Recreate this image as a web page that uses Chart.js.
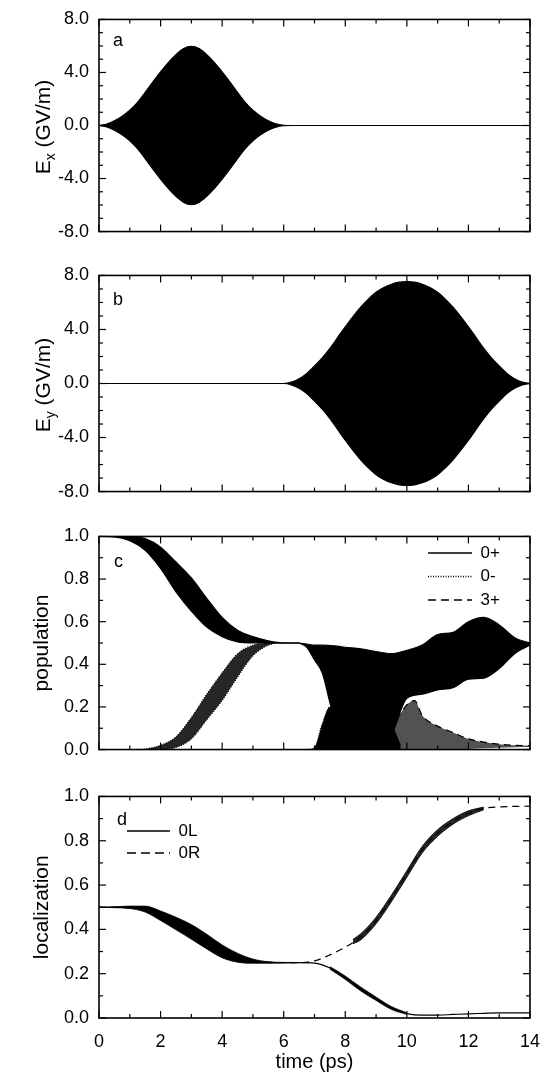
<!DOCTYPE html>
<html><head><meta charset="utf-8">
<script src="https://cdn.jsdelivr.net/npm/chart.js@4/dist/chart.umd.min.js"></script>
<style>
html,body{margin:0;padding:0;background:#fff;}
#wrap{position:relative;width:555px;height:1072px;overflow:hidden;background:#fff;}
canvas{position:absolute;left:0;}
</style></head><body>
<div id="wrap">
<canvas id="ca" width="555" height="251" style="top:0px"></canvas>
<canvas id="cb" width="555" height="255" style="top:256px"></canvas>
<canvas id="cc" width="555" height="252" style="top:517px"></canvas>
<canvas id="cd" width="555" height="295" style="top:777px"></canvas>
</div>
<script>
// ---------------- data ----------------
// panel a : envelope of Ex (GV/m)
const T_EX = [0,0.25,0.5,0.75,1,1.25,1.5,1.75,2,2.25,2.5,2.75,3,3.25,3.5,3.75,4,4.25,4.5,4.75,5,5.25,5.5,5.75,6,6.25,14];
const EX_UP = [0,0.1,0.35,0.7,1.15,1.75,2.5,3.3,4.05,4.75,5.35,5.8,5.97,5.8,5.35,4.75,4.05,3.3,2.5,1.75,1.15,0.7,0.35,0.12,0.02,0,0];
const EX_LO = [0,-0.1,-0.35,-0.7,-1.15,-1.75,-2.5,-3.3,-4.05,-4.75,-5.35,-5.8,-5.97,-5.8,-5.35,-4.75,-4.05,-3.3,-2.5,-1.75,-1.15,-0.7,-0.35,-0.12,-0.02,0,0];

// panel b : envelope of Ey (GV/m)
const T_EY = [0,6,6.25,6.5,6.75,7,7.25,7.5,7.75,8,8.25,8.5,8.75,9,9.25,9.5,9.75,10,10.25,10.5,10.75,11,11.25,11.5,11.75,12,12.25,12.5,12.75,13,13.25,13.5,13.75,14];
const EY_UP = [0,0,0.1,0.35,0.75,1.3,1.9,2.6,3.4,4.2,4.95,5.65,6.25,6.75,7.1,7.35,7.5,7.55,7.5,7.35,7.1,6.75,6.25,5.65,4.95,4.2,3.4,2.6,1.9,1.3,0.75,0.35,0.1,0];
const EY_LO = [0,0,-0.1,-0.35,-0.75,-1.3,-1.9,-2.6,-3.4,-4.2,-4.95,-5.65,-6.25,-6.75,-7.1,-7.35,-7.5,-7.55,-7.5,-7.35,-7.1,-6.75,-6.25,-5.65,-4.95,-4.2,-3.4,-2.6,-1.9,-1.3,-0.75,-0.35,-0.1,0];

// panel c : population bands
const T_C1 = [0,0.5,1,1.5,2,2.5,3,3.5,4,4.5,5,5.5,6,6.5];
const P0P_HI = [1.0,1.0,1.0,0.99,0.95,0.88,0.805,0.71,0.62,0.56,0.53,0.51,0.50,0.50];
const P0P_LO = [1.0,0.998,0.98,0.935,0.85,0.74,0.65,0.575,0.53,0.505,0.50,0.50,0.50,0.50];
const P0M_HI = [0,0,0,0.003,0.02,0.06,0.15,0.26,0.36,0.45,0.49,0.50,0.50,0.50];
const P0M_LO = [0,0,0,0,0,0.01,0.05,0.14,0.23,0.34,0.44,0.49,0.50,0.50];
const T_C2 = [6.5,6.75,7,7.25,7.5,7.75,8,8.5,9,9.5,10,10.5,11,11.5,12,12.5,13,13.5,14];
const P0P2_HI = [0.50,0.495,0.49,0.49,0.488,0.485,0.48,0.473,0.46,0.45,0.466,0.49,0.54,0.55,0.60,0.62,0.585,0.525,0.50];
const P0P2_LO = [0.50,0.48,0.42,0.36,0.22,0.08,0.03,0.02,0.02,0.07,0.24,0.26,0.28,0.29,0.33,0.335,0.38,0.45,0.49];
const T_C3 = [6.75,7,7.25,7.5,7.75,8,8.5,9,9.5,9.8];
const P3A_HI = [0,0.01,0.12,0.2,0.18,0.2,0.2,0.17,0.12,0.02];
const P3A_LO = [0,0,0,0,0,0,0,0,0,0];
const T_C4 = [9.4,9.75,10,10.25,10.5,11,11.5,12,12.5,13,13.5,14];
const P3B_HI = [0.1,0.16,0.21,0.23,0.16,0.11,0.08,0.05,0.035,0.025,0.02,0.018];
const P3B_LO = [0,0,0,0,0,0,0,0.003,0.006,0.009,0.011,0.012];

// panel d : localization
const T_D = [0,0.5,1,1.5,2,2.5,3,3.5,4,4.5,5,5.5,6,6.5,7,7.5,8,8.5,9,9.5,10,10.5,11,11.5,12,12.5,13,13.5,14];
const D_0L = [0.5,0.5,0.498,0.49,0.46,0.425,0.39,0.345,0.3,0.27,0.256,0.251,0.25,0.25,0.248,0.226,0.182,0.131,0.087,0.045,0.02,0.013,0.013,0.016,0.019,0.021,0.023,0.023,0.023];
const D_0R = [0.5,0.5,0.498,0.49,0.46,0.425,0.39,0.345,0.3,0.27,0.256,0.251,0.25,0.25,0.258,0.285,0.32,0.366,0.44,0.54,0.65,0.76,0.835,0.887,0.924,0.946,0.953,0.955,0.956];
const T_DB = [0,0.5,1,1.5,2,2.5,3,3.5,4,4.5,5,5.5,6,6.5];
const D_BHI = [0.5,0.502,0.505,0.505,0.483,0.455,0.422,0.378,0.33,0.292,0.266,0.254,0.251,0.25];
const D_BLO = [0.5,0.498,0.494,0.478,0.44,0.398,0.356,0.312,0.272,0.252,0.247,0.247,0.249,0.25];
const T_DR = [8.25,8.5,9,9.5,10,10.5,11,11.5,12,12.5];
const R_HI = [0.355,0.38,0.455,0.555,0.665,0.775,0.85,0.9,0.935,0.952];
const R_LO = [0.335,0.352,0.425,0.525,0.635,0.745,0.82,0.875,0.913,0.94];
const T_DL = [7.5,8,8.5,9,9.5,10];
const L_HI = [0.232,0.19,0.14,0.095,0.052,0.024];
const L_LO = [0.22,0.174,0.122,0.079,0.038,0.016];

const X_TICKS = [0,2,4,6,8,10,12,14];

// ---------------- helpers ----------------
Chart.defaults.font.family = '"Liberation Sans", Arial, Helvetica, sans-serif';
Chart.defaults.color = '#000';
const FONT = '"Liberation Sans", Arial, Helvetica, sans-serif';
const LW = 1.2;

function line(xs, ys, o) {
  return Object.assign({
    data: xs.map((x, i) => ({x: x, y: ys[i]})),
    borderColor: '#000', borderWidth: LW, pointRadius: 0, pointHoverRadius: 0,
    fill: false, backgroundColor: '#000', cubicInterpolationMode: 'monotone'
  }, o || {});
}
function band(xs, hi, lo, color, hiOpts, loOpts) {
  return [line(xs, lo, loOpts), line(xs, hi, Object.assign({fill: '-1', backgroundColor: color}, hiOpts || {}))];
}

const frameTicks = {
  id: 'frameTicks',
  afterDatasetsDraw(chart, args, o) {
    const {ctx, chartArea: a} = chart;
    const x = chart.scales.x, y = chart.scales.y;
    ctx.save();
    ctx.strokeStyle = '#000';
    ctx.lineWidth = 1.2;
    const seg = (x1, y1, x2, y2) => { ctx.beginPath(); ctx.moveTo(x1, y1); ctx.lineTo(x2, y2); ctx.stroke(); };
    let n = Math.round((x.max - x.min) / o.xMinor);
    for (let i = 0; i <= n; i++) {
      const v = x.min + i * o.xMinor;
      const px = x.getPixelForValue(v);
      const r = v / o.xMajor;
      const L = Math.abs(r - Math.round(r)) < 1e-6 ? 7 : 4;
      seg(px, a.bottom, px, a.bottom - L);
      seg(px, a.top, px, a.top + L);
    }
    n = Math.round((y.max - y.min) / o.yMinor);
    for (let i = 0; i <= n; i++) {
      const v = y.min + i * o.yMinor;
      const py = y.getPixelForValue(v);
      const r = (v - y.min) / o.yMajor;
      const L = Math.abs(r - Math.round(r)) < 1e-6 ? 7 : 4;
      seg(a.left, py, a.left + L, py);
      seg(a.right, py, a.right - L, py);
    }
    ctx.lineWidth = 1.6;
    ctx.strokeRect(a.left, a.top, a.right - a.left, a.bottom - a.top);
    // panel letter
    ctx.fillStyle = '#000';
    ctx.font = '18px ' + FONT;
    ctx.textAlign = 'left';
    ctx.textBaseline = 'alphabetic';
    ctx.fillText(o.letter, a.left + o.lx, a.top + o.ly);
    // y title with subscript
    if (o.sub) {
      const cy = (a.top + a.bottom) / 2 + 1.5;
      ctx.translate(50, cy);
      ctx.rotate(-Math.PI / 2);
      const big = '21px ' + FONT, small = '14px ' + FONT;
      ctx.font = big; const wE = ctx.measureText('E').width;
      const rest = ' (GV/m)'; const wR = ctx.measureText(rest).width;
      ctx.font = small; const wS = ctx.measureText(o.sub).width;
      const x0 = -(wE + wS + wR) / 2;
      ctx.font = big; ctx.fillText('E', x0, 0);
      ctx.font = small; ctx.fillText(o.sub, x0 + wE, 5);
      ctx.font = big; ctx.fillText(rest, x0 + wE + wS, 0);
    }
    ctx.restore();
  }
};

const legendPos = {
  id: 'legendPos',
  afterLayout(chart, args, o) {
    const lg = chart.legend;
    if (!lg || o.left === undefined) return;
    lg.left = o.left; lg.top = o.top;
    lg.right = lg.left + lg.width; lg.bottom = lg.top + lg.height;
  }
};

function legendItems(list) {
  return list.map(it => ({
    text: it[0], fillStyle: '#000', strokeStyle: '#000', fontColor: '#000',
    lineWidth: 1.3, lineDash: it[1], pointStyle: 'line', hidden: false
  }));
}

function yScale(min, max, step, title) {
  return {
    type: 'linear', min: min, max: max,
    grid: {display: false, drawTicks: false}, border: {display: false},
    ticks: {stepSize: step, padding: 10, color: '#000', font: {size: 18, lineHeight: 1.05},
            callback: v => Number(v).toFixed(1)},
    title: title ? {display: true, text: title, color: '#000', font: {size: 21}, padding: {top: 30, bottom: 0}} : {display: false},
    afterFit: s => { s.width = 99; }
  };
}

function makeChart(id, datasets, y, xOpts, pad, ft, legend, lpos) {
  return new Chart(document.getElementById(id), {
    type: 'line',
    data: {datasets: datasets},
    options: {
      responsive: false, animation: false, devicePixelRatio: 1,
      events: [],
      layout: {padding: pad},
      scales: {x: xOpts, y: y},
      plugins: {
        tooltip: {enabled: false},
        legend: legend || {display: false},
        frameTicks: ft,
        legendPos: lpos || {}
      }
    },
    plugins: [frameTicks, legendPos]
  });
}

const xHidden = {type: 'linear', min: 0, max: 14, display: false};

// ---------------- panel a ----------------
makeChart('ca',
  band(T_EX, EX_UP, EX_LO, '#000'),
  yScale(-8, 8, 4, null), xHidden,
  {left: 0, right: 25, top: 10, bottom: 14},
  {xMinor: 1, xMajor: 2, yMinor: 1, yMajor: 4, letter: 'a', lx: 14, ly: 27, sub: 'x'});

// ---------------- panel b ----------------
makeChart('cb',
  band(T_EY, EY_UP, EY_LO, '#000'),
  yScale(-8, 8, 4, null), xHidden,
  {left: 0, right: 25, top: 14, bottom: 14},
  {xMinor: 1, xMajor: 2, yMinor: 1, yMajor: 4, letter: 'b', lx: 14, ly: 30, sub: 'y'});

// ---------------- panel c ----------------
makeChart('cc',
  [].concat(
    band(T_C1, P0P_HI, P0P_LO, '#000'),
    band(T_C1, P0M_HI, P0M_LO, 'rgba(0,0,0,0.85)', {borderDash: [1, 1.5]}, {borderDash: [1, 1.5]}),
    band(T_C2, P0P2_HI, P0P2_LO, '#000'),
    band(T_C3, P3A_HI, P3A_LO, '#000', {borderDash: [1, 1.5]}, {borderWidth: 0}),
    band(T_C4, P3B_HI, P3B_LO, 'rgba(0,0,0,0.68)', {borderDash: [7, 5]}, {borderWidth: 0})
  ),
  yScale(0, 1, 0.2, 'population'), xHidden,
  {left: 0, right: 25, top: 14, bottom: 12},
  {xMinor: 1, xMajor: 2, yMinor: 0.1, yMajor: 0.2, letter: 'c', lx: 15, ly: 31},
  {display: true, position: 'chartArea', align: 'start',
   labels: {usePointStyle: true, pointStyleWidth: 44, padding: 6.5, color: '#000',
            font: {size: 17},
            generateLabels: () => legendItems([['0+', []], ['0-', [1, 1.5]], ['3+', [8, 5]]])}},
  {left: 421.5, top: 21});

// ---------------- panel d ----------------
makeChart('cd',
  [].concat(
    band(T_DB, D_BHI, D_BLO, '#000', {borderWidth: 0.8}, {borderWidth: 0.8}),
    band(T_DR, R_HI, R_LO, 'rgba(0,0,0,0.85)', {borderWidth: 0.8}, {borderWidth: 0.8}),
    band(T_DL, L_HI, L_LO, '#000', {borderWidth: 0.6}, {borderWidth: 0.6}),
    [line(T_D, D_0L), line(T_D, D_0R, {borderDash: [7, 5]})]
  ),
  yScale(0, 1, 0.2, 'localization'),
  {type: 'linear', min: 0, max: 14,
   grid: {display: false, drawTicks: false}, border: {display: false},
   afterBuildTicks: s => { s.ticks = X_TICKS.map(v => ({value: v})); },
   ticks: {padding: 15, color: '#000', font: {size: 18, lineHeight: 1.05}, callback: v => String(v)},
   title: {display: true, text: 'time (ps)', color: '#000', font: {size: 20, lineHeight: 1}, padding: {top: 0, bottom: 0}},
   afterFit: s => { s.height = 54; }},
  {left: 0, right: 25, top: 14, bottom: 0},
  {xMinor: 1, xMajor: 2, yMinor: 0.1, yMajor: 0.2, letter: 'd', lx: 18, ly: 29},
  {display: true, position: 'chartArea', align: 'start',
   labels: {usePointStyle: true, pointStyleWidth: 43, padding: 5, color: '#000',
            font: {size: 17},
            generateLabels: () => legendItems([['0L', []], ['0R', [9, 5]]])}},
  {left: 122, top: 40.5});
</script>
</body></html>
